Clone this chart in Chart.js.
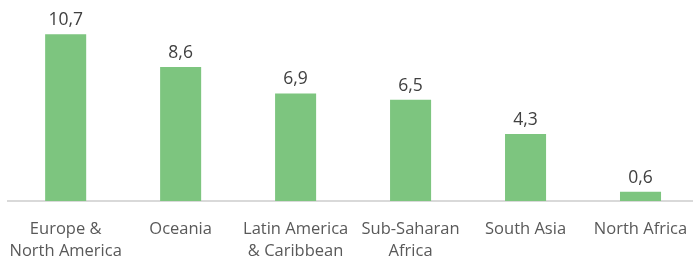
<!DOCTYPE html>
<html>
<head>
<meta charset="utf-8">
<script src="https://cdn.jsdelivr.net/npm/chart.js@4"></script>
<style>
  html, body { margin: 0; padding: 0; background: #fff; overflow: hidden; }
  #wrap { width: 700px; height: 256px; }
</style>
</head>
<body>
<div id="wrap"><canvas id="chart"></canvas></div>
<script>
const regions = [
  ["Europe &", "North America"],
  "Oceania",
  ["Latin America", "& Caribbean"],
  ["Sub-Saharan", "Africa"],
  "South Asia",
  "North Africa"
];
const values = [10.7, 8.6, 6.9, 6.5, 4.3, 0.6];

const FONT = "'Open Sans', sans-serif";

const valueLabels = {
  id: "valueLabels",
  afterDatasetsDraw(chart) {
    const ctx = chart.ctx;
    const meta = chart.getDatasetMeta(0);
    ctx.save();
    ctx.font = "17.5px " + FONT;
    ctx.fillStyle = "#404040";
    ctx.textAlign = "center";
    ctx.textBaseline = "alphabetic";
    meta.data.forEach((bar, i) => {
      const txt = values[i].toFixed(1).replace(".", ",");
      ctx.fillText(txt, bar.x, bar.y - 9);
    });
    ctx.restore();
  }
};

new Chart(document.getElementById("chart"), {
  type: "bar",
  data: {
    labels: regions,
    datasets: [{
      data: values,
      backgroundColor: "#7DC57F",
      barPercentage: 0.357,
      categoryPercentage: 1
    }]
  },
  options: {
    responsive: true,
    maintainAspectRatio: false,
    animation: false,
    layout: { padding: { left: 6, right: 2, top: 14, bottom: 0 } },
    plugins: { legend: { display: false }, tooltip: { enabled: false } },
    scales: {
      y: { display: false, min: 0, max: 12 },
      x: {
        grid: { display: false },
        border: { display: true, color: "#D9D9D9", width: 2 },
        ticks: {
          color: "#595959",
          font: { family: FONT, size: 16.5, lineHeight: 1.33 },
          padding: 9,
          maxRotation: 0,
          autoSkip: false
        },
        afterFit(scale) { scale.height = 55; }
      }
    }
  },
  plugins: [valueLabels]
});
</script>
</body>
</html>
